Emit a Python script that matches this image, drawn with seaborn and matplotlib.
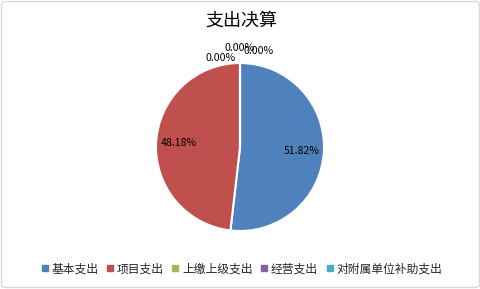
import matplotlib
matplotlib.use("Agg")
import matplotlib.pyplot as plt
import seaborn as sns
from matplotlib.lines import Line2D
from matplotlib.patches import FancyBboxPatch

sns.set_theme(style="white")
plt.rcParams['font.family'] = ['Noto Sans CJK SC', 'DejaVu Sans']

categories = ["基本支出", "项目支出", "上缴上级支出", "经营支出", "对附属单位补助支出"]
values = [51.82, 48.18, 0.00, 0.00, 0.00]
colors = ["#4F81BD", "#C0504D", "#9BBB59", "#8064A2", "#4BACC6"]
title = "支出决算"

W, H = 481, 289
fig = plt.figure(figsize=(W / 100, H / 100), dpi=100)
fig.patch.set_facecolor("white")
fig.patches.append(FancyBboxPatch((1.5 / W, 1.5 / H), 1 - 3 / W, 1 - 3 / H,
                                  boxstyle="round,pad=0,rounding_size=0.01",
                                  transform=fig.transFigure, facecolor="none",
                                  edgecolor="#D9D9D9", linewidth=1))

r = 84
cx, cy = 240, 147
ax = fig.add_axes([(cx - r) / W, 1 - (cy + r) / H, 2 * r / W, 2 * r / H])
wedges, texts, autotexts = ax.pie(values, colors=colors, startangle=90, counterclock=False,
                                  autopct=lambda p: f"{p:.2f}%", pctdistance=0.73,
                                  wedgeprops=dict(edgecolor="white", linewidth=1.5),
                                  textprops=dict(fontsize=7.6, color="black"))
ax.set_xlim(-1, 1)
ax.set_ylim(-1, 1)
ax.set_aspect("equal")

# place zero-value labels above the top of the pie like the reference
zero_pos = [(221, 58), (240, 48), (259, 51)]
zi = 0
for v, t in zip(values, autotexts):
    if v == 0 and zi < len(zero_pos):
        px, py = zero_pos[zi]
        t.set_position(((px - cx) / r, (cy - py) / r))
        t.set_ha("center")
        t.set_va("center")
        t.set_clip_on(False)
        zi += 1

fig.text(241 / W, 1 - 21 / H, title, ha="center", va="center", fontsize=13, color="#000000")

handles = [Line2D([0], [0], marker="s", linestyle="", markersize=5,
                  markerfacecolor=c, markeredgecolor=c) for c in colors]
fig.legend(handles, categories, loc="center", bbox_to_anchor=(241 / W, 1 - 269 / H),
           ncol=5, frameon=False, fontsize=8.5, handletextpad=0.15, columnspacing=0.6,
           handlelength=0.8, borderaxespad=0)

fig.savefig("out.png", dpi=100, facecolor="white")
